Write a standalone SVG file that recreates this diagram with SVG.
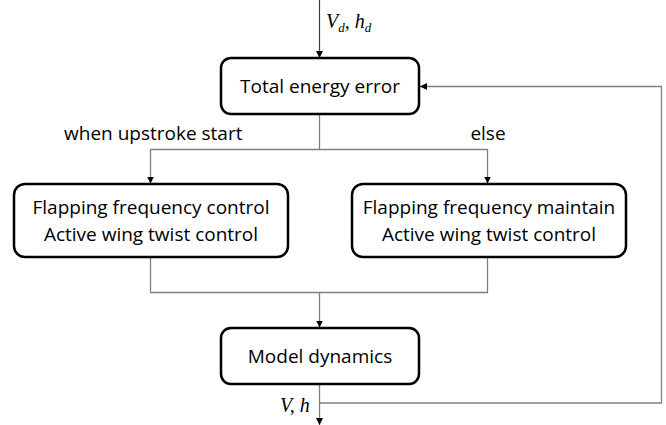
<svg xmlns="http://www.w3.org/2000/svg" width="666" height="425" viewBox="0 0 666 425">
  <style>
    .box { fill: #ffffff; stroke: #000000; stroke-width: 2.5; }
    .lbl { font-family: "Open Sans", "Noto Sans", sans-serif; font-size: 19px; fill: #000000; }
    .mid { text-anchor: middle; }
    .var { font-family: "Liberation Serif", "DejaVu Serif", serif; font-style: italic; font-size: 20px; fill: #000000; }
    .sub { font-size: 13px; }
    .wire { fill: none; stroke: #808080; stroke-width: 1.3; }
    .wire-dark { fill: none; stroke: #404040; stroke-width: 1.2; }
  </style>
  <defs>
    <marker id="arrow" viewBox="0 0 10 10" refX="10" refY="5" markerWidth="7" markerHeight="7" markerUnits="userSpaceOnUse" orient="auto">
      <path d="M0,0 L10,5 L0,10 Z" fill="#000000"/>
    </marker>
  </defs>

  <rect width="666" height="425" fill="#ffffff"/>

  <!-- connectors -->
  <g id="connectors">
    <line class="wire-dark" x1="319.5" y1="0" x2="319.5" y2="58" marker-end="url(#arrow)"/>
    <path class="wire" d="M319.5,114 V149.5 H150.5 V183.5" marker-end="url(#arrow)"/>
    <path class="wire" d="M319.5,149.5 H487.5 V183.5" marker-end="url(#arrow)"/>
    <path class="wire" d="M150.5,257 V292.5 H487.5 V257"/>
    <line class="wire" x1="319.5" y1="292.5" x2="319.5" y2="327.5" marker-end="url(#arrow)"/>
    <line class="wire" x1="319.5" y1="384" x2="319.5" y2="425" marker-end="url(#arrow)"/>
    <path class="wire" d="M319.5,403 H661.5 V86.5 H420" marker-end="url(#arrow)"/>
    <text class="var" x="326" y="28">V<tspan class="sub" dy="4">d</tspan><tspan dy="-4">, h</tspan><tspan class="sub" dy="4">d</tspan></text>
    <text class="var" x="280" y="412">V, h</text>
    <text class="lbl" x="64" y="140">when upstroke start</text>
    <text class="lbl" x="488" y="140" text-anchor="middle">else</text>
  </g>

  <g id="total-energy-error">
    <rect class="box" x="221" y="58" width="198" height="56" rx="10"/>
    <text class="lbl mid" x="320" y="93">Total energy error</text>
  </g>

  <g id="frequency-control">
    <rect class="box" x="14" y="184" width="274" height="73" rx="11"/>
    <text class="lbl mid"><tspan x="151" y="214">Flapping frequency control</tspan><tspan x="151" y="241">Active wing twist control</tspan></text>
  </g>

  <g id="frequency-maintain">
    <rect class="box" x="352" y="184" width="274" height="73" rx="11"/>
    <text class="lbl mid"><tspan x="489" y="214">Flapping frequency maintain</tspan><tspan x="489" y="241">Active wing twist control</tspan></text>
  </g>

  <g id="model-dynamics">
    <rect class="box" x="221" y="328" width="198" height="56" rx="10"/>
    <text class="lbl mid" x="320" y="363">Model dynamics</text>
  </g>
</svg>
